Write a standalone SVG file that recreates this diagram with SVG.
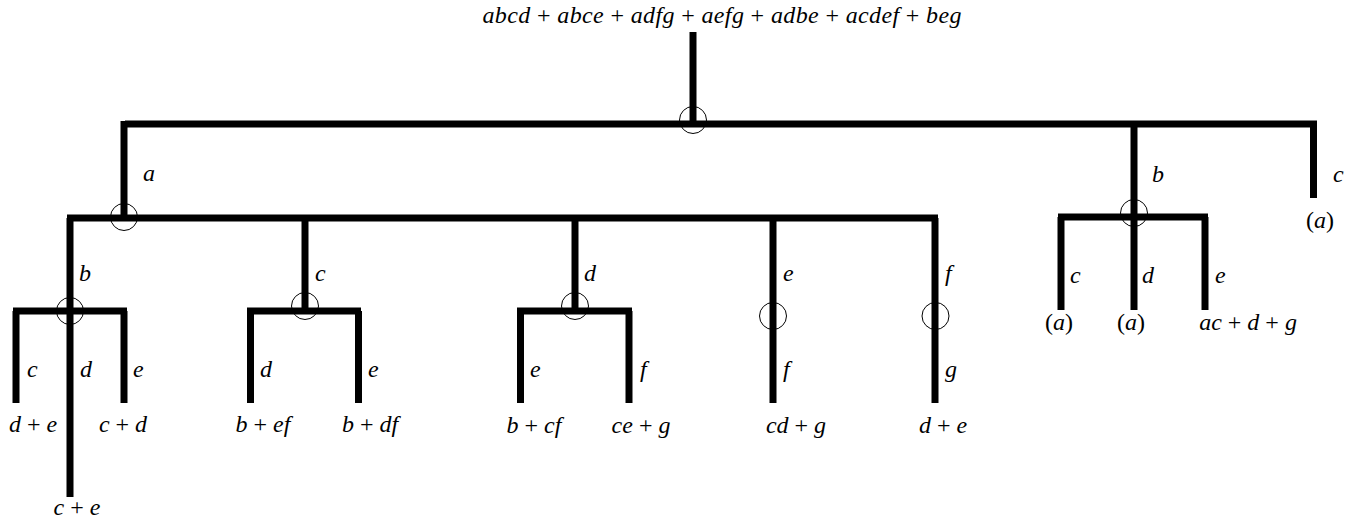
<svg xmlns="http://www.w3.org/2000/svg" width="1362" height="523" viewBox="0 0 1362 523" font-family="'Liberation Serif', 'DejaVu Serif', serif">
<style>
text{font-size:24px;font-style:italic;fill:#000}
.op{font-style:normal}
.c text{text-anchor:middle}
line{stroke:#000;stroke-width:7;stroke-linecap:butt}
circle{fill:none;stroke:#000;stroke-width:1}
</style>
<rect width="1362" height="523" fill="#fff"/>
<g id="connectors">
<line x1="693" y1="32" x2="693" y2="124"/>
<line x1="125" y1="124" x2="1317" y2="124"/>
<line x1="124" y1="121" x2="124" y2="218"/>
<line x1="67" y1="218" x2="938" y2="218"/>
<line x1="70" y1="218" x2="70" y2="311"/>
<line x1="305" y1="218" x2="305" y2="311"/>
<line x1="575" y1="218" x2="575" y2="311"/>
<line x1="773" y1="218" x2="773" y2="403"/>
<line x1="935" y1="218" x2="935" y2="403"/>
<line x1="13" y1="311" x2="127" y2="311"/>
<line x1="16" y1="311" x2="16" y2="403"/>
<line x1="70" y1="311" x2="70" y2="497"/>
<line x1="124" y1="311" x2="124" y2="403"/>
<line x1="247" y1="311" x2="361" y2="311"/>
<line x1="250.5" y1="311" x2="250.5" y2="403"/>
<line x1="358.5" y1="311" x2="358.5" y2="403"/>
<line x1="517" y1="311" x2="632" y2="311"/>
<line x1="520.5" y1="311" x2="520.5" y2="403"/>
<line x1="629" y1="311" x2="629" y2="403"/>
<line x1="1134" y1="124" x2="1134" y2="310"/>
<line x1="1058" y1="217" x2="1208" y2="217"/>
<line x1="1061" y1="217" x2="1061" y2="310"/>
<line x1="1205" y1="217" x2="1205" y2="310"/>
<line x1="1313.5" y1="121" x2="1313.5" y2="198"/>
</g>
<g id="edge-labels">
<text x="143" y="181">a</text>
<text x="79" y="281">b</text>
<text x="315" y="281">c</text>
<text x="584" y="281">d</text>
<text x="783" y="281">e</text>
<text x="945" y="281">f</text>
<text x="27" y="377">c</text>
<text x="80" y="377">d</text>
<text x="133" y="377">e</text>
<text x="260" y="377">d</text>
<text x="368" y="377">e</text>
<text x="530" y="377">e</text>
<text x="640" y="377">f</text>
<text x="783" y="377">f</text>
<text x="945" y="377">g</text>
<text x="1152" y="182">b</text>
<text x="1333" y="182">c</text>
<text x="1070" y="283">c</text>
<text x="1142" y="283">d</text>
<text x="1215" y="283">e</text>
</g>
<g id="junctions">
<circle id="j-root" cx="693" cy="120" r="13.5"/>
<circle id="j-a" cx="124" cy="217" r="13.5"/>
<circle id="j-ab" cx="70" cy="311" r="13.5"/>
<circle id="j-ac" cx="305" cy="306" r="13.5"/>
<circle id="j-ad" cx="575" cy="306" r="13.5"/>
<circle id="j-ae" cx="773" cy="316" r="13.5"/>
<circle id="j-af" cx="935.5" cy="316" r="13.5"/>
<circle id="j-b" cx="1134" cy="213" r="13.5"/>
</g>
<g class="c">
<g id="root"><text x="722" y="23" textLength="479" lengthAdjust="spacing">abcd <tspan class="op">+</tspan> abce <tspan class="op">+</tspan> adfg <tspan class="op">+</tspan> aefg <tspan class="op">+</tspan> adbe <tspan class="op">+</tspan> acdef <tspan class="op">+</tspan> beg</text></g>
<g id="leaf-abc"><text x="33" y="432">d <tspan class="op">+</tspan> e</text></g>
<g id="leaf-abe"><text x="123" y="432">c <tspan class="op">+</tspan> d</text></g>
<g id="leaf-abd"><text x="77" y="515">c <tspan class="op">+</tspan> e</text></g>
<g id="leaf-acd"><text x="263" y="432">b <tspan class="op">+</tspan> ef</text></g>
<g id="leaf-ace"><text x="370" y="432">b <tspan class="op">+</tspan> df</text></g>
<g id="leaf-ade"><text x="534" y="433">b <tspan class="op">+</tspan> cf</text></g>
<g id="leaf-adf"><text x="641" y="433">ce <tspan class="op">+</tspan> g</text></g>
<g id="leaf-aef"><text x="796" y="433">cd <tspan class="op">+</tspan> g</text></g>
<g id="leaf-afg"><text x="943" y="433">d <tspan class="op">+</tspan> e</text></g>
<g id="leaf-bc"><text x="1059" y="330"><tspan class="op">(</tspan>a<tspan class="op">)</tspan></text></g>
<g id="leaf-bd"><text x="1131" y="330"><tspan class="op">(</tspan>a<tspan class="op">)</tspan></text></g>
<g id="leaf-be"><text x="1248" y="330">ac <tspan class="op">+</tspan> d <tspan class="op">+</tspan> g</text></g>
<g id="leaf-c"><text x="1320" y="228"><tspan class="op">(</tspan>a<tspan class="op">)</tspan></text></g>
</g>
</svg>
